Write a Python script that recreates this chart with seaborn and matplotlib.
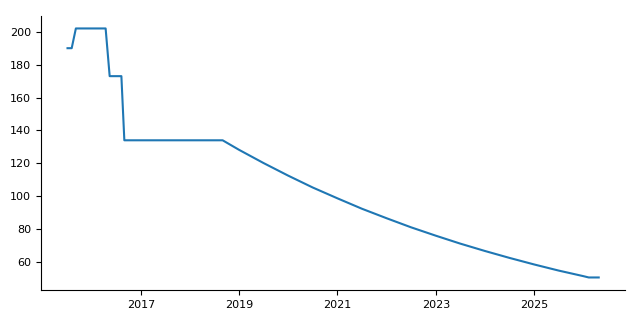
import matplotlib
matplotlib.use("Agg")
import matplotlib.pyplot as plt
import seaborn as sns
import pandas as pd

dates = [
    "2015-07-07", "2015-08-07", "2015-09-07", "2016-04-15", "2016-05-15",
    "2016-08-10", "2016-09-01", "2018-09-01", "2019-01-01", "2019-07-01",
    "2020-01-01", "2020-07-01", "2021-01-01", "2021-07-01", "2022-01-01",
    "2022-07-01", "2023-01-01", "2023-07-01", "2024-01-01", "2024-07-01",
    "2025-01-01", "2025-07-01", "2026-01-01", "2026-02-10", "2026-04-25",
]
values = [
    190, 190, 202, 202, 173,
    173, 134, 134, 128.2, 120.2,
    112.5, 105.3, 98.7, 92.4, 86.6,
    81.1, 76.0, 71.2, 66.7, 62.5,
    58.5, 54.8, 51.4, 50.6, 50.6,
]
tick_years = ["2017", "2019", "2021", "2023", "2025"]

df = pd.DataFrame({"date": pd.to_datetime(dates), "value": values})

fig, ax = plt.subplots(figsize=(6.4, 3.2), dpi=100)
sns.lineplot(data=df, x="date", y="value", ax=ax, color="tab:blue", linewidth=1.5)
ax.set_xlabel("")
ax.set_ylabel("")
ax.set_xticks(pd.to_datetime([y + "-01-01" for y in tick_years]))
ax.set_xticklabels(tick_years)
sns.despine(ax=ax)
ax.tick_params(labelsize=8)
fig.subplots_adjust(left=0.064, right=0.977, top=0.95, bottom=0.094)
fig.savefig("out.png", dpi=100)
